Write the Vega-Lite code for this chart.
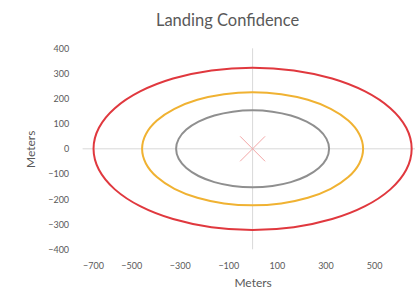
{
  "$schema": "https://vega.github.io/schema/vega-lite/v6.json",
  "autosize": {"type": "none"},
  "width": 340,
  "height": 201,
  "padding": {"left": 82.6, "top": 48.3, "right": 0, "bottom": 45},
  "background": "white",
  "config": {"view": {"stroke": null}, "font": "Lato"},
  "title": {"text": "Landing Confidence", "fontSize": 16.5, "fontWeight": "normal", "color": "#595959", "font": "Lato", "dx": -25, "offset": 15},
  "datasets": {
    "ellipses": [
      {"s": "red", "i": 0, "x": 655, "y": 0},
      {"s": "red", "i": 1, "x": 632.7, "y": 83.6},
      {"s": "red", "i": 2, "x": 567.2, "y": 161.5},
      {"s": "red", "i": 3, "x": 463.2, "y": 228.4},
      {"s": "red", "i": 4, "x": 327.5, "y": 279.7},
      {"s": "red", "i": 5, "x": 169.5, "y": 312},
      {"s": "red", "i": 6, "x": 0, "y": 323},
      {"s": "red", "i": 7, "x": -169.5, "y": 312},
      {"s": "red", "i": 8, "x": -327.5, "y": 279.7},
      {"s": "red", "i": 9, "x": -463.2, "y": 228.4},
      {"s": "red", "i": 10, "x": -567.2, "y": 161.5},
      {"s": "red", "i": 11, "x": -632.7, "y": 83.6},
      {"s": "red", "i": 12, "x": -655, "y": 0},
      {"s": "red", "i": 13, "x": -632.7, "y": -83.6},
      {"s": "red", "i": 14, "x": -567.2, "y": -161.5},
      {"s": "red", "i": 15, "x": -463.2, "y": -228.4},
      {"s": "red", "i": 16, "x": -327.5, "y": -279.7},
      {"s": "red", "i": 17, "x": -169.5, "y": -312},
      {"s": "red", "i": 18, "x": 0, "y": -323},
      {"s": "red", "i": 19, "x": 169.5, "y": -312},
      {"s": "red", "i": 20, "x": 327.5, "y": -279.7},
      {"s": "red", "i": 21, "x": 463.2, "y": -228.4},
      {"s": "red", "i": 22, "x": 567.2, "y": -161.5},
      {"s": "red", "i": 23, "x": 632.7, "y": -83.6},
      {"s": "orange", "i": 0, "x": 455, "y": 0},
      {"s": "orange", "i": 1, "x": 439.5, "y": 58.2},
      {"s": "orange", "i": 2, "x": 394, "y": 112.5},
      {"s": "orange", "i": 3, "x": 321.7, "y": 159.1},
      {"s": "orange", "i": 4, "x": 227.5, "y": 194.9},
      {"s": "orange", "i": 5, "x": 117.8, "y": 217.3},
      {"s": "orange", "i": 6, "x": 0, "y": 225},
      {"s": "orange", "i": 7, "x": -117.8, "y": 217.3},
      {"s": "orange", "i": 8, "x": -227.5, "y": 194.9},
      {"s": "orange", "i": 9, "x": -321.7, "y": 159.1},
      {"s": "orange", "i": 10, "x": -394, "y": 112.5},
      {"s": "orange", "i": 11, "x": -439.5, "y": 58.2},
      {"s": "orange", "i": 12, "x": -455, "y": 0},
      {"s": "orange", "i": 13, "x": -439.5, "y": -58.2},
      {"s": "orange", "i": 14, "x": -394, "y": -112.5},
      {"s": "orange", "i": 15, "x": -321.7, "y": -159.1},
      {"s": "orange", "i": 16, "x": -227.5, "y": -194.9},
      {"s": "orange", "i": 17, "x": -117.8, "y": -217.3},
      {"s": "orange", "i": 18, "x": 0, "y": -225},
      {"s": "orange", "i": 19, "x": 117.8, "y": -217.3},
      {"s": "orange", "i": 20, "x": 227.5, "y": -194.9},
      {"s": "orange", "i": 21, "x": 321.7, "y": -159.1},
      {"s": "orange", "i": 22, "x": 394, "y": -112.5},
      {"s": "orange", "i": 23, "x": 439.5, "y": -58.2},
      {"s": "gray", "i": 0, "x": 315, "y": 0},
      {"s": "gray", "i": 1, "x": 304.3, "y": 39.6},
      {"s": "gray", "i": 2, "x": 272.8, "y": 76.5},
      {"s": "gray", "i": 3, "x": 222.7, "y": 108.2},
      {"s": "gray", "i": 4, "x": 157.5, "y": 132.5},
      {"s": "gray", "i": 5, "x": 81.5, "y": 147.8},
      {"s": "gray", "i": 6, "x": 0, "y": 153},
      {"s": "gray", "i": 7, "x": -81.5, "y": 147.8},
      {"s": "gray", "i": 8, "x": -157.5, "y": 132.5},
      {"s": "gray", "i": 9, "x": -222.7, "y": 108.2},
      {"s": "gray", "i": 10, "x": -272.8, "y": 76.5},
      {"s": "gray", "i": 11, "x": -304.3, "y": 39.6},
      {"s": "gray", "i": 12, "x": -315, "y": 0},
      {"s": "gray", "i": 13, "x": -304.3, "y": -39.6},
      {"s": "gray", "i": 14, "x": -272.8, "y": -76.5},
      {"s": "gray", "i": 15, "x": -222.7, "y": -108.2},
      {"s": "gray", "i": 16, "x": -157.5, "y": -132.5},
      {"s": "gray", "i": 17, "x": -81.5, "y": -147.8},
      {"s": "gray", "i": 18, "x": 0, "y": -153},
      {"s": "gray", "i": 19, "x": 81.5, "y": -147.8},
      {"s": "gray", "i": 20, "x": 157.5, "y": -132.5},
      {"s": "gray", "i": 21, "x": 222.7, "y": -108.2},
      {"s": "gray", "i": 22, "x": 272.8, "y": -76.5},
      {"s": "gray", "i": 23, "x": 304.3, "y": -39.6}
    ],
    "origin": [{"x": 0, "y": 0}]
  },
  "layer": [
    {
      "data": {"name": "origin"},
      "mark": {"type": "rule", "color": "#d9d9d9", "strokeWidth": 1},
      "encoding": {
        "y": {
          "field": "y", "type": "quantitative",
          "scale": {"domain": [-400, 400], "nice": false, "zero": false},
          "axis": {
            "values": [-400, -300, -200, -100, 0, 100, 200, 300, 400],
            "domain": false, "ticks": false, "grid": false, "labelOverlap": false,
            "labelFontSize": 9, "labelColor": "#595959", "labelPadding": 14, "labelFont": "Lato",
            "title": "Meters", "titleFontSize": 12, "titleFontWeight": "normal", "titleColor": "#595959", "titleFont": "Lato", "titlePadding": 10
          }
        }
      }
    },
    {
      "data": {"name": "origin"},
      "mark": {"type": "rule", "color": "#d9d9d9", "strokeWidth": 1},
      "encoding": {
        "x": {
          "field": "x", "type": "quantitative",
          "scale": {"domain": [-700, 700], "nice": false, "zero": false},
          "axis": {
            "values": [-700, -500, -300, -100, 100, 300, 500],
            "domain": false, "ticks": false, "grid": false, "labelOverlap": false,
            "labelFontSize": 9, "labelColor": "#595959", "labelPadding": 12, "labelFont": "Lato",
            "title": "Meters", "titleFontSize": 12, "titleFontWeight": "normal", "titleColor": "#595959", "titleFont": "Lato", "titlePadding": 7
          }
        }
      }
    },
    {
      "data": {"name": "ellipses"},
      "mark": {"type": "line", "interpolate": "cardinal-closed", "strokeWidth": 2},
      "encoding": {
        "x": {
          "field": "x", "type": "quantitative",
          "scale": {"domain": [-700, 700], "nice": false, "zero": false},
          "axis": {
            "values": [-700, -500, -300, -100, 100, 300, 500],
            "domain": false, "ticks": false, "grid": false, "labelOverlap": false,
            "labelFontSize": 9, "labelColor": "#595959", "labelPadding": 12, "labelFont": "Lato",
            "title": "Meters", "titleFontSize": 12, "titleFontWeight": "normal", "titleColor": "#595959", "titleFont": "Lato", "titlePadding": 7
          }
        },
        "y": {
          "field": "y", "type": "quantitative",
          "scale": {"domain": [-400, 400], "nice": false, "zero": false},
          "axis": {
            "values": [-400, -300, -200, -100, 0, 100, 200, 300, 400],
            "domain": false, "ticks": false, "grid": false, "labelOverlap": false,
            "labelFontSize": 9, "labelColor": "#595959", "labelPadding": 14, "labelFont": "Lato",
            "title": "Meters", "titleFontSize": 12, "titleFontWeight": "normal", "titleColor": "#595959", "titleFont": "Lato", "titlePadding": 10
          }
        },
        "color": {
          "field": "s", "type": "nominal",
          "scale": {"domain": ["red", "orange", "gray"], "range": ["#e0383e", "#f0b232", "#8f8f8f"]},
          "legend": null
        },
        "detail": {"field": "s"},
        "order": {"field": "i", "type": "quantitative"}
      }
    },
    {
      "data": {"name": "origin"},
      "mark": {"type": "point", "shape": "M-1,-1L1,1M1,-1L-1,1", "filled": false, "stroke": "#f2a7a7", "strokeWidth": 1, "size": 625, "opacity": 1},
      "encoding": {
        "x": {
          "field": "x", "type": "quantitative",
          "scale": {"domain": [-700, 700], "nice": false, "zero": false},
          "axis": {
            "values": [-700, -500, -300, -100, 100, 300, 500],
            "domain": false, "ticks": false, "grid": false, "labelOverlap": false,
            "labelFontSize": 9, "labelColor": "#595959", "labelPadding": 12, "labelFont": "Lato",
            "title": "Meters", "titleFontSize": 12, "titleFontWeight": "normal", "titleColor": "#595959", "titleFont": "Lato", "titlePadding": 7
          }
        },
        "y": {
          "field": "y", "type": "quantitative",
          "scale": {"domain": [-400, 400], "nice": false, "zero": false},
          "axis": {
            "values": [-400, -300, -200, -100, 0, 100, 200, 300, 400],
            "domain": false, "ticks": false, "grid": false, "labelOverlap": false,
            "labelFontSize": 9, "labelColor": "#595959", "labelPadding": 14, "labelFont": "Lato",
            "title": "Meters", "titleFontSize": 12, "titleFontWeight": "normal", "titleColor": "#595959", "titleFont": "Lato", "titlePadding": 10
          }
        }
      }
    }
  ]
}
